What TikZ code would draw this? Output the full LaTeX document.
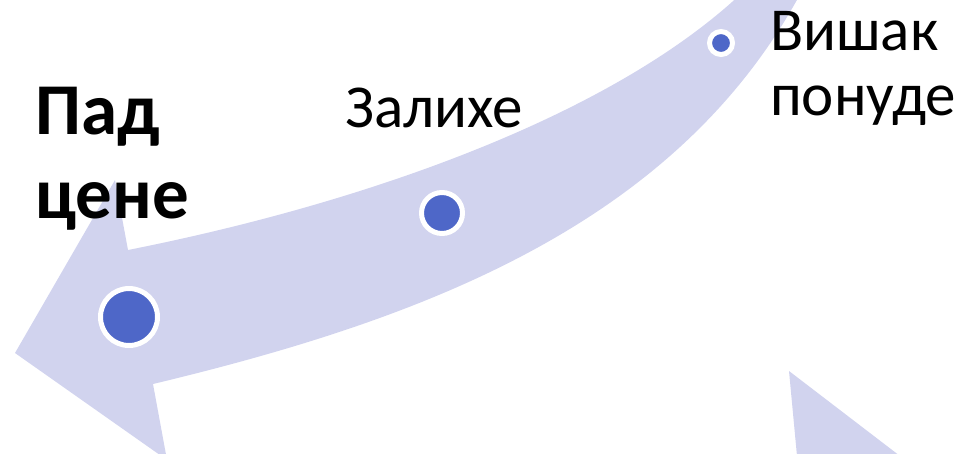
\documentclass[tikz,border=0pt]{standalone}
\usepackage{fontspec}
\setmainfont{Carlito}
\definecolor{BandLilac}{RGB}{209,211,238}
\definecolor{DotBlue}{RGB}{78,103,200}
\tikzset{
  band/.style    ={fill=BandLilac, draw=none},
  dot/.style     ={circle, fill=DotBlue, draw=white, line width=5pt, inner sep=0pt},
  lbl/.style     ={anchor=base west, align=left, inner sep=0pt, text=black,
                   font=\fontsize{61}{65}\selectfont},
  lblbold/.style ={lbl, font=\fontsize{73}{84}\selectfont\bfseries},
}

\begin{document}
\begin{tikzpicture}[x=1pt,y=-1pt]
  \useasboundingbox (0,0) rectangle (957,453);
  \begin{scope}
    \clip (0,0) rectangle (957,453);
    % the big curved arrow
    \fill[band] (15,353) -- (115,180) -- (128,250)
      .. controls (380,200) and (620,110) .. (745,-10) -- (805,-15)
      .. controls (680,225) and (420,320) .. (153,384) -- (167,460) -- cycle;
    % head of the next arrow
    \fill[band] (789,371) -- (900,456) -- (797,456) -- cycle;
  \end{scope}
  \node[dot,minimum size=57pt] (fall)  at (129,317) {};
  \node[dot,minimum size=41pt] (stock) at (442,213) {};
  \node[dot,minimum size=23pt] (glut)  at (721,43)  {};
  % base anchor sits on the last line
  \node[lbl] (glutlbl)  at (770,115) {Вишак\\понуде};
  \node[lbl] (stocklbl) at (345,127) {Залихе};
  \node[lblbold] (falllbl) at (35,218) {Пад\\цене};
\end{tikzpicture}
\end{document}
